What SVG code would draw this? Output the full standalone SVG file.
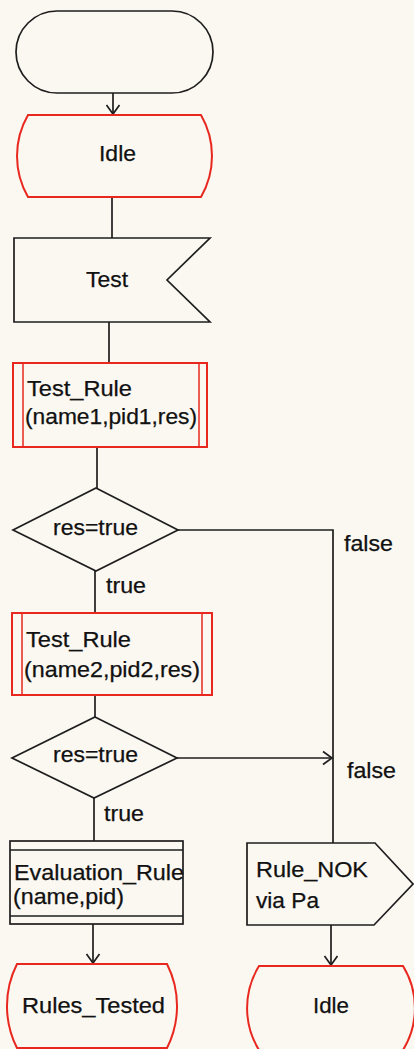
<svg xmlns="http://www.w3.org/2000/svg" width="414" height="1049" viewBox="0 0 414 1049">
  <style>
    .bg { fill: #fbf8f2; }
    .blk { fill: none; stroke: #1e1e1e; stroke-width: 1.7; stroke-linejoin: miter; }
    .red { fill: none; stroke: #e8281f; stroke-width: 2; }
    .redthin { fill: none; stroke: #e8281f; stroke-width: 1.5; }
    .edge { fill: none; stroke: #1e1e1e; stroke-width: 1.7; }
    text { font-family: "Liberation Sans", Arial, sans-serif; font-size: 21.5px; fill: #111; stroke: #111; stroke-width: 0.25; }
  </style>
  <defs>
    <marker id="arrow" markerUnits="userSpaceOnUse" markerWidth="20" markerHeight="20" viewBox="-12 -10 14 20" refX="0" refY="0" orient="auto">
      <path d="M-9,-6.5 L0,0 L-9,6.5" fill="none" stroke="#1e1e1e" stroke-width="1.7"/>
    </marker>
  </defs>

  <rect class="bg" x="0" y="0" width="414" height="1049"/>

  <!-- connectors -->
  <g id="connectors">
    <path class="edge" d="M113,93 L113,114" marker-end="url(#arrow)"/>
    <path class="edge" d="M112,197 L112,238"/>
    <path class="edge" d="M109,322 L109,363"/>
    <path class="edge" d="M97,447 L97,488"/>
    <path class="edge" d="M95,571 L95,613"/>
    <path class="edge" d="M178,530 L333,530 L333,843"/>
    <path class="edge" d="M95,695 L95,717"/>
    <path class="edge" d="M177,758 L332,758" marker-end="url(#arrow)"/>
    <path class="edge" d="M94,798 L94,841"/>
    <path class="edge" d="M93,924 L93,963" marker-end="url(#arrow)"/>
    <path class="edge" d="M331,925 L331,965" marker-end="url(#arrow)"/>
    <text x="106" y="593" textLength="40" lengthAdjust="spacingAndGlyphs">true</text>
    <text x="344" y="551" textLength="49" lengthAdjust="spacingAndGlyphs">false</text>
    <text x="104" y="821" textLength="40" lengthAdjust="spacingAndGlyphs">true</text>
    <text x="347" y="778" textLength="49" lengthAdjust="spacingAndGlyphs">false</text>
  </g>

  <!-- start -->
  <g id="start">
    <rect class="blk" x="16" y="11" width="197" height="82" rx="41" ry="41"/>
  </g>

  <!-- state Idle -->
  <g id="idle_top">
    <path class="red" d="M28,115 L201,115 A82,82 0 0 1 201,197 L28,197 A82,82 0 0 1 28,115 Z"/>
    <text x="99" y="161" textLength="37" lengthAdjust="spacingAndGlyphs">Idle</text>
  </g>

  <!-- input signal Test -->
  <g id="test">
    <path class="blk" d="M14,238 L210,238 L167,280 L210,322 L14,322 Z"/>
    <text x="86" y="287" textLength="42" lengthAdjust="spacingAndGlyphs">Test</text>
  </g>

  <!-- procedure call 1 -->
  <g id="test_rule_1">
    <rect class="red" x="13" y="363" width="194" height="84"/>
    <path class="redthin" d="M23,363 L23,447 M199,363 L199,447"/>
    <text x="27" y="396" textLength="105" lengthAdjust="spacingAndGlyphs">Test_Rule</text>
    <text x="25" y="424" textLength="172" lengthAdjust="spacingAndGlyphs">(name1,pid1,res)</text>
  </g>

  <!-- decision 1 -->
  <g id="decision_1">
    <path class="blk" d="M96,488 L178,530 L96,571 L13,530 Z"/>
    <text x="53" y="535" textLength="85" lengthAdjust="spacingAndGlyphs">res=true</text>
  </g>

  <!-- procedure call 2 -->
  <g id="test_rule_2">
    <rect class="red" x="12" y="613" width="200" height="82"/>
    <path class="redthin" d="M22,613 L22,695 M202,613 L202,695"/>
    <text x="26" y="647" textLength="105" lengthAdjust="spacingAndGlyphs">Test_Rule</text>
    <text x="24" y="677" textLength="176" lengthAdjust="spacingAndGlyphs">(name2,pid2,res)</text>
  </g>

  <!-- decision 2 -->
  <g id="decision_2">
    <path class="blk" d="M95,717 L177,758 L94,798 L12,758 Z"/>
    <text x="53" y="762" textLength="85" lengthAdjust="spacingAndGlyphs">res=true</text>
  </g>

  <!-- macro call -->
  <g id="evaluation_rule">
    <rect class="blk" x="10" y="841" width="173" height="83"/>
    <path class="blk" d="M10,850 L183,850 M10,916 L183,916"/>
    <text x="14" y="880" textLength="170" lengthAdjust="spacingAndGlyphs">Evaluation_Rule</text>
    <text x="13" y="904" textLength="111" lengthAdjust="spacingAndGlyphs">(name,pid)</text>
  </g>

  <!-- output signal -->
  <g id="rule_nok">
    <path class="blk" d="M247,843 L375,843 L413,884 L374,925 L247,925 Z"/>
    <text x="256" y="877" textLength="112" lengthAdjust="spacingAndGlyphs">Rule_NOK</text>
    <text x="256" y="908" textLength="63" lengthAdjust="spacingAndGlyphs">via Pa</text>
  </g>

  <!-- state Rules_Tested -->
  <g id="rules_tested">
    <path class="red" d="M17,964 L167,964 A93,93 0 0 1 167,1048 L17,1048 A93,93 0 0 1 17,964 Z"/>
    <text x="22" y="1013" textLength="143" lengthAdjust="spacingAndGlyphs">Rules_Tested</text>
  </g>

  <!-- state Idle -->
  <g id="idle_bottom">
    <path class="red" d="M259,966 L403,966 A80,80 0 0 1 403,1050 L259,1050 A80,80 0 0 1 259,966 Z"/>
    <text x="313" y="1013" textLength="36" lengthAdjust="spacingAndGlyphs">Idle</text>
  </g>
</svg>
